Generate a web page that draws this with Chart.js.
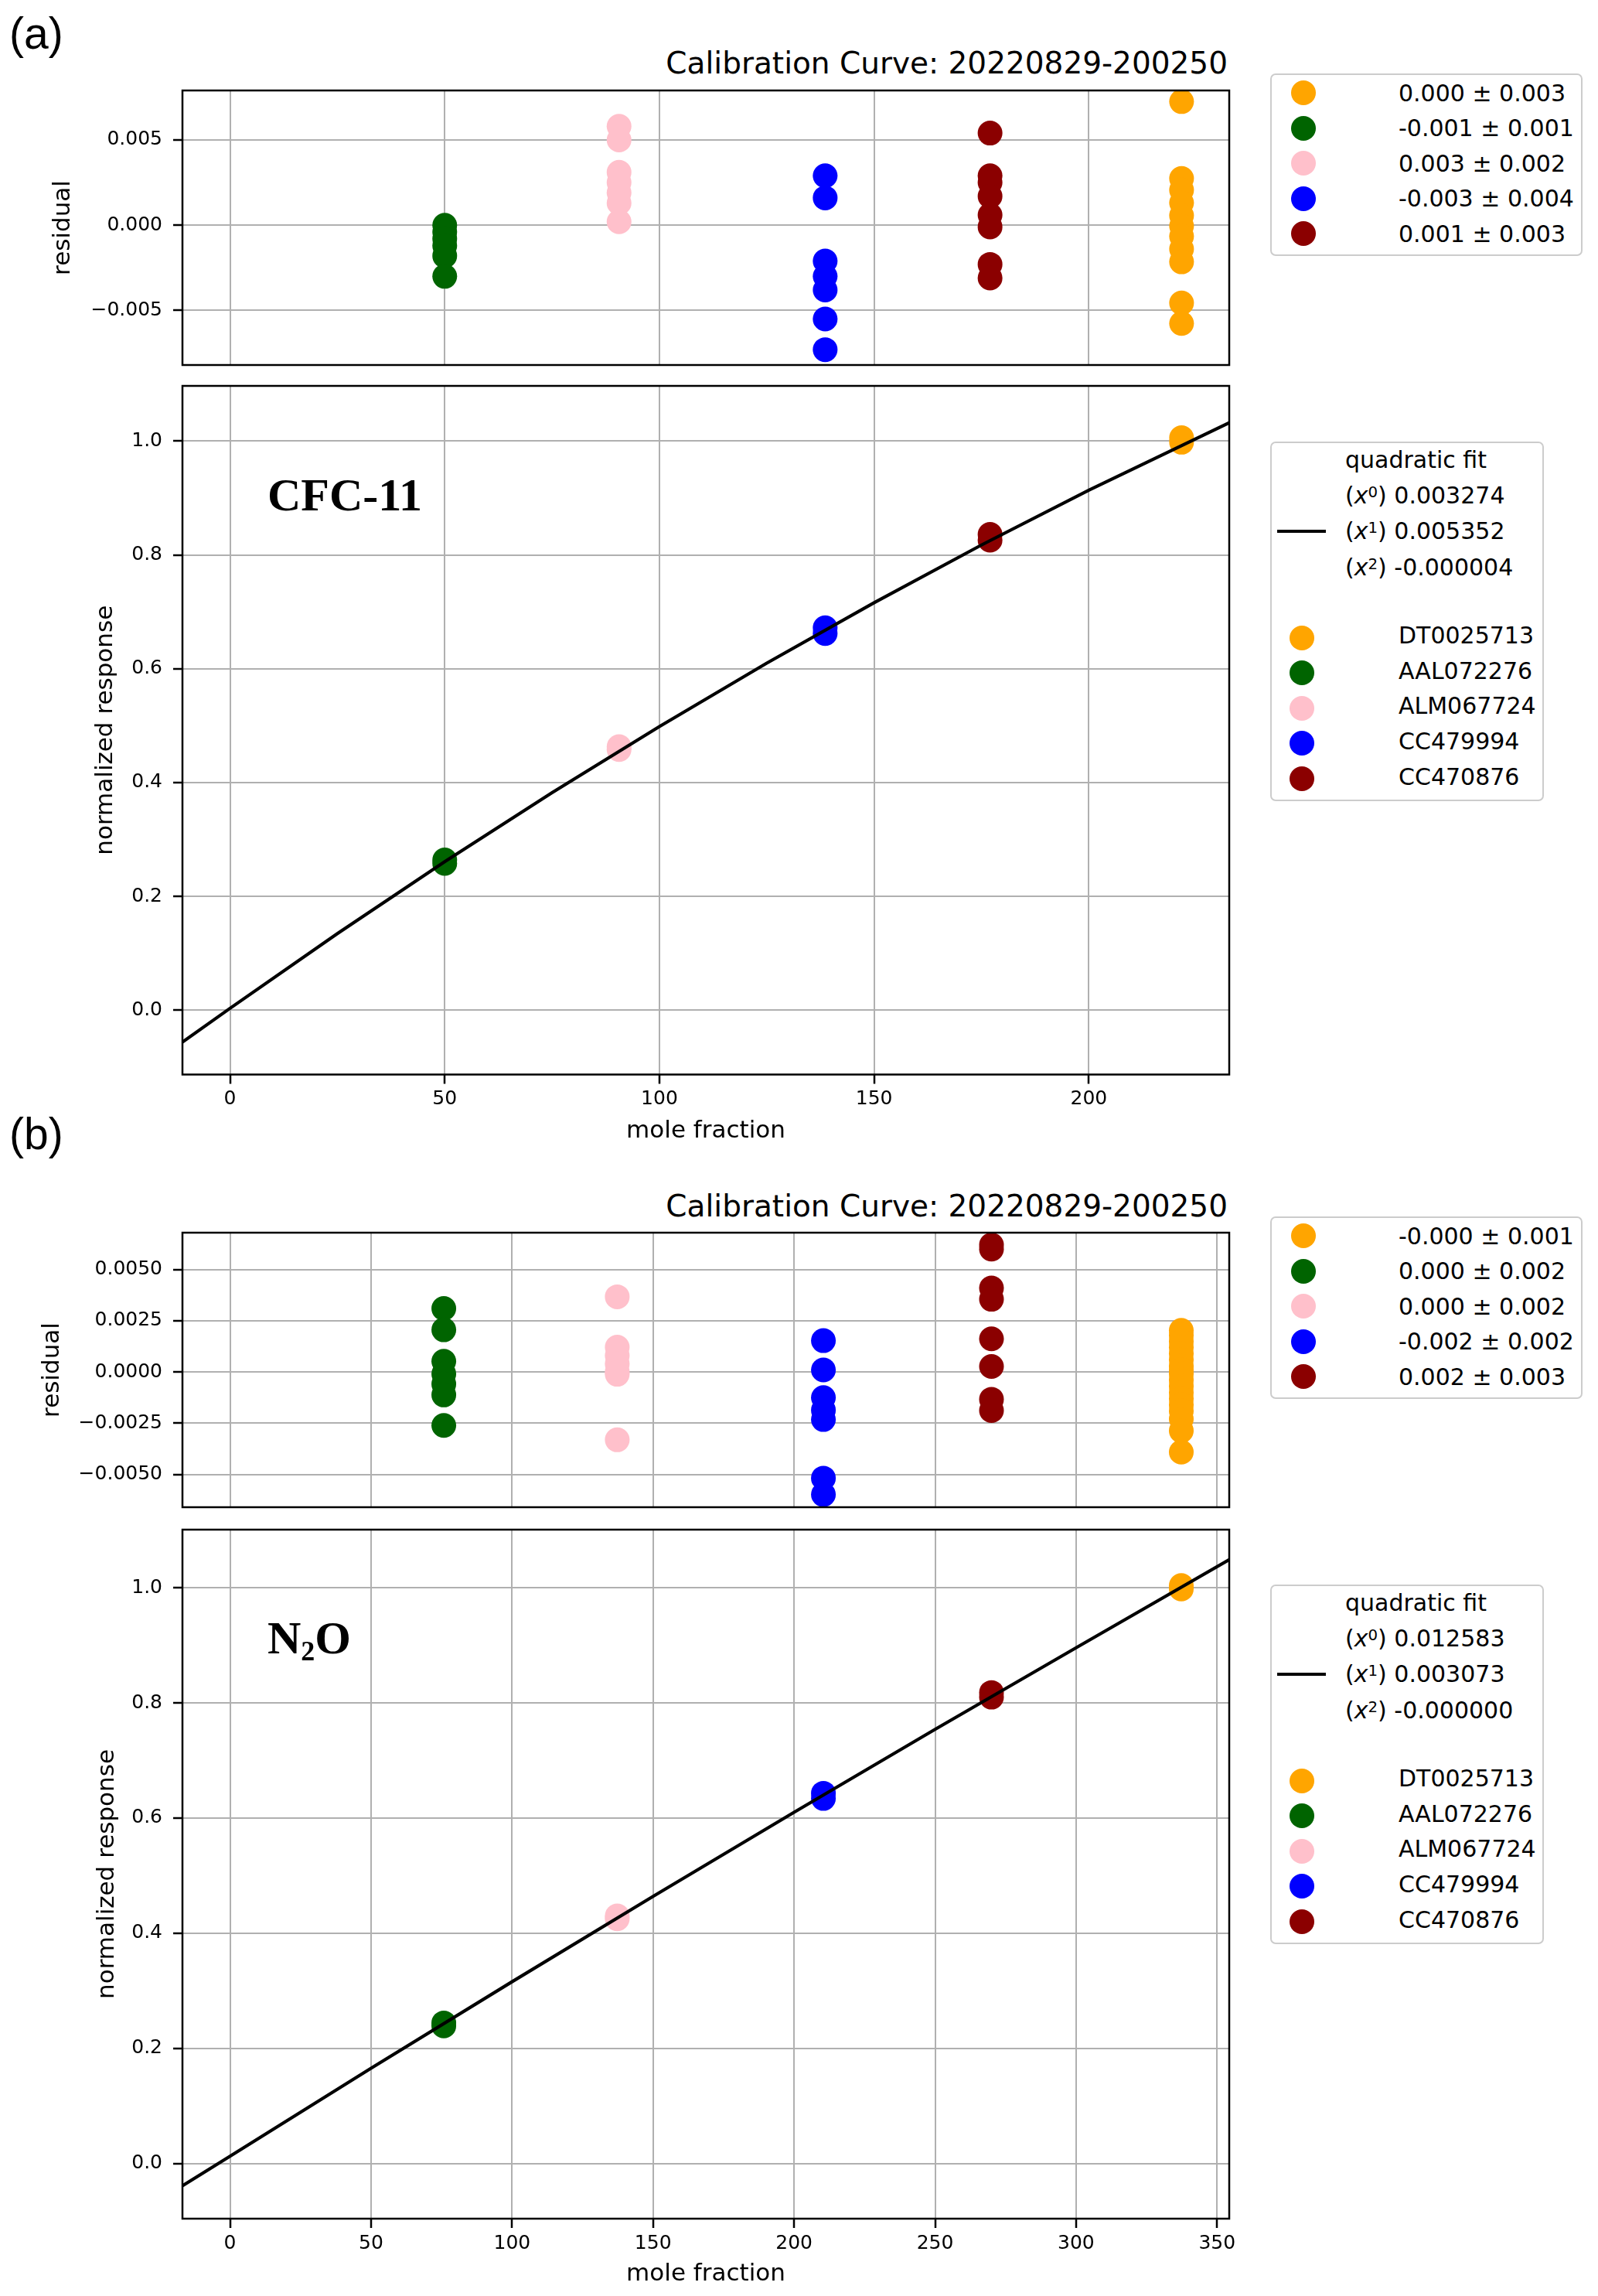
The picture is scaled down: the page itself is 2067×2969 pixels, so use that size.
<!DOCTYPE html>
<html>
<head>
<meta charset="utf-8">
<script src="https://cdn.jsdelivr.net/npm/chart.js@4.4.0/dist/chart.umd.min.js"></script>
<style>
  body { margin: 0; background: #fff; }
  #page { position: relative; width: 2067px; height: 2969px; overflow: hidden; font-family: 'DejaVu Sans', sans-serif; color: #000; }
  .abs { position: absolute; white-space: nowrap; line-height: 1; }
  .panel { position: absolute; left: 0; width: 1620px; }
  .tag { font-family: 'Liberation Sans', Arial, sans-serif; font-size: 57px; }
  .ttl { font-size: 39px; right: 479px; }
  .gas { font-family: 'Liberation Serif', 'Times New Roman', serif; font-weight: bold; font-size: 60px; }
  .gas sub { font-size: 0.6em; line-height: 0; vertical-align: -0.25em; }
  .leg { position: absolute; border: 2px solid #cccccc; border-radius: 7px; background: rgba(255,255,255,0.8); box-sizing: border-box; }
  .dot { position: absolute; width: 32px; height: 32px; border-radius: 50%; }
  .lt { font-size: 30px; }
  .lt sup { font-size: 0.66em; line-height: 0; vertical-align: 0.42em; }
</style>
</head>
<body>
<div id="page">
  <div class="abs tag" style="left:12px;top:15px">(a)</div>
  <div class="abs tag" style="left:12px;top:1438px">(b)</div>
  <div class="abs ttl" style="top:62px">Calibration Curve: 20220829-200250</div>
  <div class="abs ttl" style="top:1540px">Calibration Curve: 20220829-200250</div>

  <div class="panel" style="top:80px;height:410px"><canvas id="resA"></canvas></div>
  <div class="panel" style="top:470px;height:1012px"><canvas id="mainA"></canvas></div>
  <div class="panel" style="top:1560px;height:410px"><canvas id="resB"></canvas></div>
  <div class="panel" style="top:1950px;height:1010px"><canvas id="mainB"></canvas></div>

  <div class="abs gas" style="left:346px;top:610px">CFC-11</div>
  <div class="abs gas" style="left:346px;top:2088px">N<sub>2</sub>O</div>
</div>
<script>
// cylinders, in legend order
const cylNames = ['DT0025713', 'AAL072276', 'ALM067724', 'CC479994', 'CC470876'];
const cylColors = ['#ffa500', '#006400', '#ffc0cb', '#0000ff', '#8b0000'];

// ---- CFC-11 ----
const cfcX = [221.6, 50.0, 90.6, 138.6, 177.0];
const cfcResidual = [
  [0.00725, 0.00274, 0.00206, 0.00131, 0.00056, -0.00005, -0.00065, -0.0014, -0.00215, -0.00456, -0.00576],
  [0.0, -0.0004, -0.0008, -0.0012, -0.0018, -0.0030],
  [0.0058, 0.0050, 0.0031, 0.0025, 0.0019, 0.0013, 0.0002],
  [0.0029, 0.0016, -0.0021, -0.0030, -0.0038, -0.0055, -0.0073],
  [0.0054, 0.0029, 0.0025, 0.0017, 0.0006, -0.0001, -0.0023, -0.0031]
];
const cfcResponse = [[0.998, 1.006], [0.258, 0.264], [0.458, 0.463], [0.662, 0.672], [0.826, 0.836]];
const cfcFitX = [-11.08, 0, 25, 50, 75, 100, 125, 150, 175, 200, 232.7];
const cfcFitY = [-0.0561, 0.0033, 0.1346, 0.2609, 0.3822, 0.4985, 0.6098, 0.7161, 0.8174, 0.9137, 1.0321];
const cfcResidLegend = ['0.000 ± 0.003', '-0.001 ± 0.001', '0.003 ± 0.002', '-0.003 ± 0.004', '0.001 ± 0.003'];
const cfcFitCoef = ['0.003274', '0.005352', '-0.000004'];
const cfcXTicks = [0, 50, 100, 150, 200];
const cfcResidTickVals = [-0.005, 0, 0.005];
const cfcResidTickText = ['−0.005', '0.000', '0.005'];

// ---- N2O ----
const n2oX = [337.3, 75.8, 137.3, 210.4, 270.0];
const n2oResidual = [
  [0.00203, 0.0018, 0.0015, 0.0012, 0.0009, 0.0006, 0.0003, 0.0001, -0.0001, -0.0004, -0.0007, -0.0010, -0.0013, -0.0016, -0.0019, -0.0023, -0.00287, -0.00391],
  [0.0031, 0.00206, 0.00052, -0.00009, -0.00059, -0.00112, -0.00261],
  [0.00367, 0.00121, 0.0008, 0.0004, 0.0, -0.00011, -0.00331],
  [0.00153, 0.0001, -0.00125, -0.00186, -0.00232, -0.00518, -0.00598],
  [0.0062, 0.0060, 0.0041, 0.00355, 0.00162, 0.00027, -0.00133, -0.00188]
];
const n2oResponse = [[0.998, 1.004], [0.239, 0.244], [0.425, 0.430], [0.634, 0.643], [0.810, 0.818]];
const n2oFitX = [-16.87, 0, 50, 100, 150, 200, 250, 300, 354.3];
const n2oFitY = [-0.039, 0.0126, 0.1652, 0.3156, 0.4639, 0.6100, 0.7540, 0.8958, 1.0487];
const n2oResidLegend = ['-0.000 ± 0.001', '0.000 ± 0.002', '0.000 ± 0.002', '-0.002 ± 0.002', '0.002 ± 0.003'];
const n2oFitCoef = ['0.012583', '0.003073', '-0.000000'];
const n2oXTicks = [0, 50, 100, 150, 200, 250, 300, 350];
const n2oResidTickVals = [-0.005, -0.0025, 0, 0.0025, 0.005];
const n2oResidTickText = ['−0.0050', '−0.0025', '0.0000', '0.0025', '0.0050'];

// shared response ticks
const respTickVals = [0, 0.2, 0.4, 0.6, 0.8, 1.0];
const respTickText = ['0.0', '0.2', '0.4', '0.6', '0.8', '1.0'];

const FONT = 'DejaVu Sans';
const GRID = '#b0b0b0';

// full box around the plotting area
const framePlugin = {
  id: 'frame',
  afterDraw(chart) {
    const { ctx, chartArea: a } = chart;
    ctx.save();
    ctx.strokeStyle = '#000';
    ctx.lineWidth = 2.5;
    ctx.strokeRect(a.left, a.top, a.right - a.left, a.bottom - a.top);
    ctx.restore();
  }
};

function pointSets(xs, ys) {
  return xs.map((x, i) => ({
    data: ys[i].map(y => ({ x: x, y: y })),
    backgroundColor: cylColors[i],
    pointRadius: 16,
    pointHoverRadius: 16,
    pointBorderWidth: 0,
    clip: 0
  }));
}

function fitSet(xs, ys) {
  return {
    data: xs.map((x, i) => ({ x: x, y: ys[i] })),
    showLine: true,
    borderColor: '#000',
    borderWidth: 4.2,
    pointRadius: 0,
    tension: 0,
    clip: 0
  };
}

// keep the label overhang from shrinking the plot area
function noOverhang(s) {
  s.paddingTop = 0; s.paddingBottom = 0; s.paddingLeft = 0; s.paddingRight = 0;
}

function makeChart(id, p) {
  new Chart(document.getElementById(id), {
    type: 'scatter',
    data: { datasets: p.datasets },
    options: {
      animation: false,
      responsive: true,
      maintainAspectRatio: false,
      devicePixelRatio: 1,
      events: [],
      layout: { padding: { left: p.padLeft, top: p.padTop, right: 30, bottom: 0 } },
      plugins: { legend: { display: false }, tooltip: { enabled: false } },
      scales: {
        x: {
          type: 'linear', min: p.xMin, max: p.xMax, z: 1,
          afterBuildTicks: s => { s.ticks = p.xTicks.map(v => ({ value: v })); },
          afterFit: s => { s.height = p.xHeight; noOverhang(s); },
          ticks: { display: p.xLabels, autoSkip: false, maxRotation: 0, padding: 5, color: '#000',
                   font: { family: FONT, size: 25 }, callback: v => String(v) },
          grid: { color: GRID, lineWidth: 2, drawTicks: p.xLabels, tickLength: 12, tickWidth: 2.5, tickColor: '#000' },
          border: { display: false },
          title: { display: p.xLabels, text: 'mole fraction', color: '#000', padding: 0,
                   font: { family: FONT, size: 31 } }
        },
        y: {
          type: 'linear', min: p.yMin, max: p.yMax, z: 1,
          afterBuildTicks: s => { s.ticks = p.yTickVals.map(v => ({ value: v })); },
          afterFit: s => { s.width = p.yWidth; noOverhang(s); },
          ticks: { autoSkip: false, padding: 14, color: '#000', font: { family: FONT, size: 25 },
                   callback: v => p.yTickText[p.yTickVals.indexOf(v)] },
          grid: { color: GRID, lineWidth: 2, drawTicks: true, tickLength: 12, tickWidth: 2.5, tickColor: '#000' },
          border: { display: false },
          title: { display: true, text: p.yTitle, color: '#000', padding: 0,
                   font: { family: FONT, size: 31 } }
        }
      }
    },
    plugins: [framePlugin]
  });
}

makeChart('resA', {
  datasets: pointSets(cfcX, cfcResidual),
  xMin: -11.08, xMax: 232.7, xTicks: cfcXTicks, xLabels: false, xHeight: 18,
  yMin: -0.0082, yMax: 0.0079, yTickVals: cfcResidTickVals, yTickText: cfcResidTickText,
  yTitle: 'residual', padLeft: 63, padTop: 37, yWidth: 173
});
makeChart('mainA', {
  datasets: [fitSet(cfcFitX, cfcFitY)].concat(pointSets(cfcX, cfcResponse)),
  xMin: -11.08, xMax: 232.7, xTicks: cfcXTicks, xLabels: true, xHeight: 92.5,
  yMin: -0.113, yMax: 1.097, yTickVals: respTickVals, yTickText: respTickText,
  yTitle: 'normalized response', padLeft: 118, padTop: 29, yWidth: 118
});
makeChart('resB', {
  datasets: pointSets(n2oX, n2oResidual),
  xMin: -16.87, xMax: 354.3, xTicks: n2oXTicks, xLabels: false, xHeight: 21,
  yMin: -0.0066, yMax: 0.0068, yTickVals: n2oResidTickVals, yTickText: n2oResidTickText,
  yTitle: 'residual', padLeft: 49, padTop: 34, yWidth: 187
});
makeChart('mainB', {
  datasets: [fitSet(n2oFitX, n2oFitY)].concat(pointSets(n2oX, n2oResponse)),
  xMin: -16.87, xMax: 354.3, xTicks: n2oXTicks, xLabels: true, xHeight: 91,
  yMin: -0.096, yMax: 1.101, yTickVals: respTickVals, yTickText: respTickText,
  yTitle: 'normalized response', padLeft: 120, padTop: 28, yWidth: 116
});

// ---- legends (outside the axes, as in the figure) ----
const page = document.getElementById('page');

function add(cls, css, html) {
  const d = document.createElement('div');
  d.className = cls;
  Object.assign(d.style, css);
  if (html !== undefined) d.innerHTML = html;
  page.appendChild(d);
  return d;
}
function text(html, left, baseline) {
  add('abs lt', { left: left + 'px', top: (baseline - 25.4) + 'px' }, html);
}
function dot(i, cx, cy) {
  add('dot', { left: (cx - 16) + 'px', top: (cy - 16) + 'px', background: cylColors[i] });
}

function residLegend(dy, labels) {
  add('leg', { left: '1643px', top: (95 + dy) + 'px', width: '404px', height: '236px' });
  labels.forEach((t, i) => {
    const cy = 120 + dy + 45.6 * i;
    dot(i, 1686, cy);
    text(t, 1809, cy + 11);
  });
}

function fitLegend(dy, coef) {
  add('leg', { left: '1643px', top: (571 + dy) + 'px', width: '354px', height: '465px' });
  add('abs', { left: '1652px', top: (685 + dy) + 'px', width: '63px', height: '4px', background: '#000' });
  text('quadratic fit', 1740, 605 + dy);
  coef.forEach((c, k) => {
    text('(<i>x</i><sup>' + k + '</sup>) ' + c, 1740, 651 + dy + 46.5 * k);
  });
  cylNames.forEach((n, i) => {
    const cy = 824.5 + dy + 45.6 * i;
    dot(i, 1684, cy);
    text(n, 1809, cy + 8);
  });
}

residLegend(0, cfcResidLegend);
fitLegend(0, cfcFitCoef);
residLegend(1478, n2oResidLegend);
fitLegend(1478, n2oFitCoef);
</script>
</body>
</html>
